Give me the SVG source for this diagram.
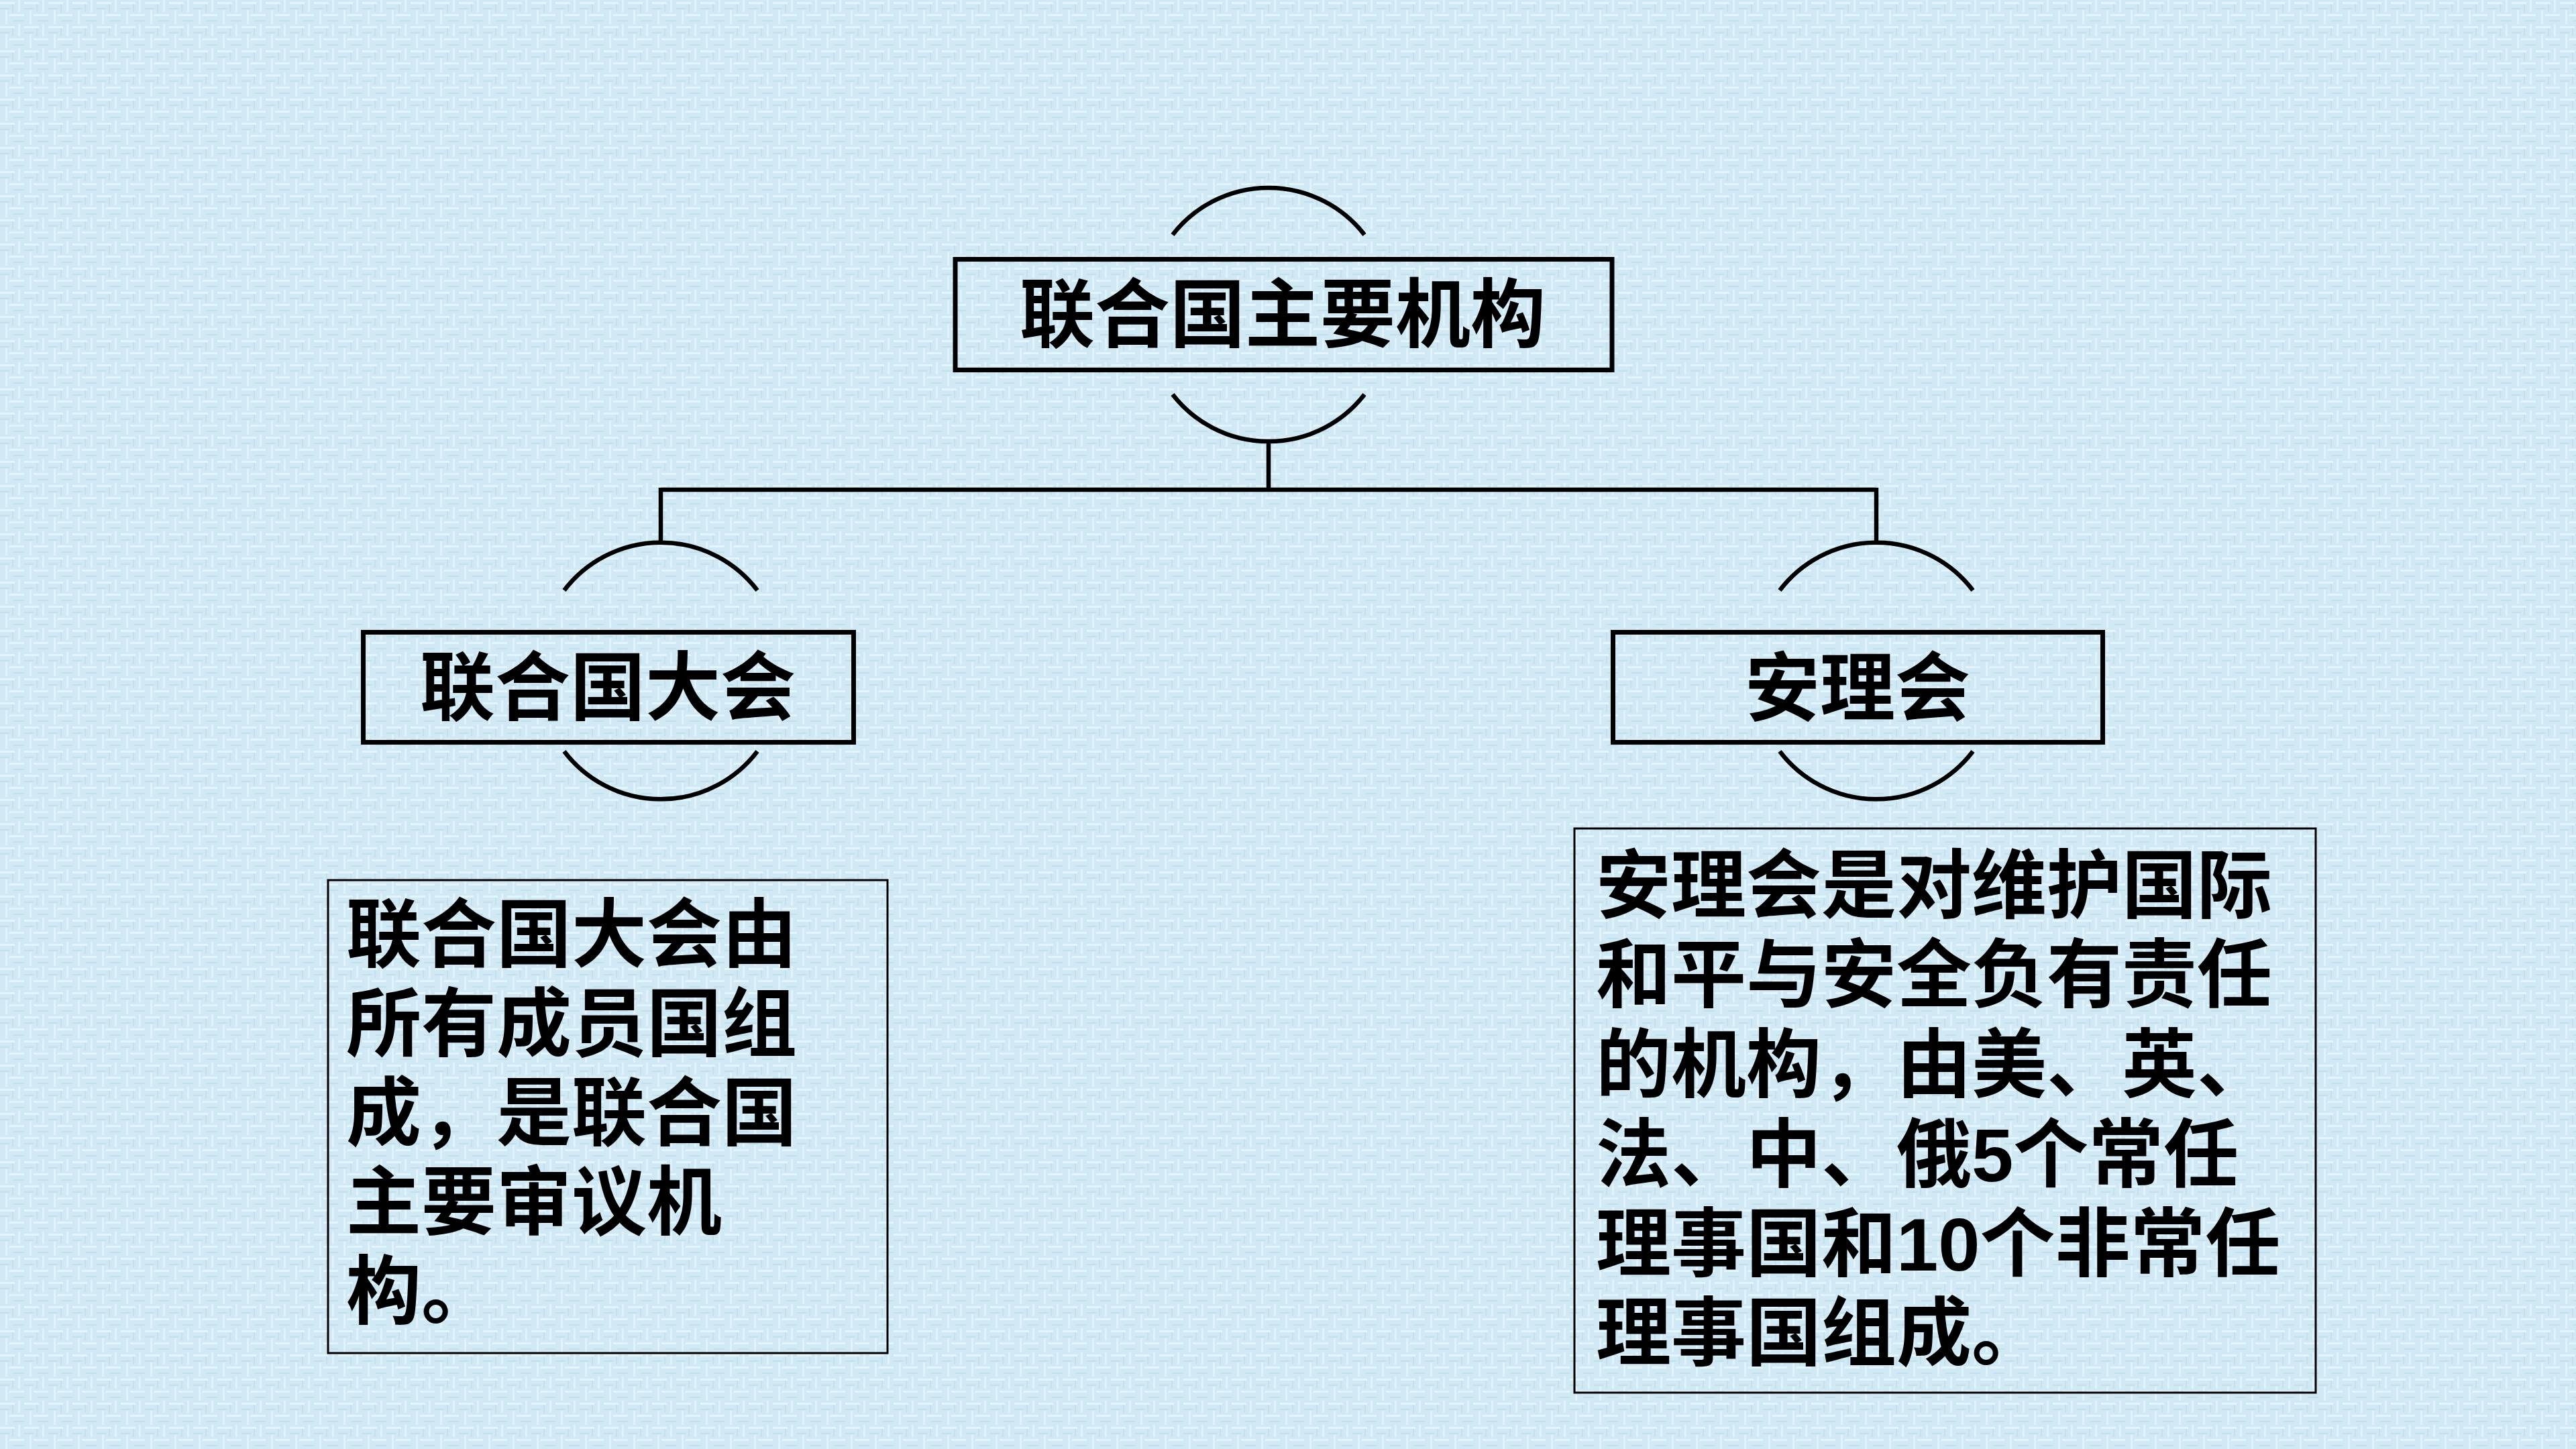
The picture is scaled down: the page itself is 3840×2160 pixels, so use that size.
<svg xmlns="http://www.w3.org/2000/svg" width="3840" height="2160" viewBox="0 0 3840 2160">
  <defs>
    <!-- woven paper texture -->
    <pattern id="weave" width="36" height="36" patternUnits="userSpaceOnUse">
      <rect width="36" height="36" fill="#d1e9f5"/>
      <rect x="0" y="3" width="22" height="3" fill="#e3f6fd"/>
      <rect x="14" y="21" width="22" height="3" fill="#e3f6fd"/>
      <rect x="27" y="0" width="3" height="18" fill="#e0f3fb"/>
      <rect x="8" y="15" width="3" height="21" fill="#e0f3fb"/>
      <rect x="0" y="12" width="14" height="2" fill="#c2dfec"/>
      <rect x="20" y="30" width="16" height="2" fill="#c2dfec"/>
      <rect x="18" y="6" width="2" height="12" fill="#c4e0ed"/>
    </pattern>
    <style>
      .hdr { fill: none; stroke: #000; stroke-width: 7; }
      .arc { fill: none; stroke: #000; stroke-width: 6.5; }
      .desc { fill: none; stroke: #000; stroke-width: 3; }
      .wire { fill: none; stroke: #000; stroke-width: 6.5; }
      text { font-family: "Noto Sans CJK SC", "Noto Sans", sans-serif; font-weight: 700; font-size: 112px; fill: #000; }
      .mid { text-anchor: middle; }
      .num { font-family: "Liberation Sans", Arial, sans-serif; }
    </style>
  </defs>

  <rect width="3840" height="2160" fill="url(#weave)"/>

  <!-- connectors -->
  <g id="connectors">
    <path class="wire" d="M1891,655 V730"/>
    <path class="wire" d="M985,730 H2797"/>
    <path class="wire" d="M985,727 V810"/>
    <path class="wire" d="M2797,727 V810"/>
  </g>

  <!-- root: main organs of the UN -->
  <g id="node-root">
    <path class="arc" d="M1748,350 A181,181 0 0 1 2034,350"/>
    <rect class="hdr" x="1424" y="386.5" width="979" height="165"/>
    <path class="arc" d="M1748,588 A181,181 0 0 0 2034,588"/>
    <text class="mid" x="1912" y="509">联合国主要机构</text>
  </g>

  <!-- General Assembly -->
  <g id="node-assembly">
    <path class="arc" d="M841,880 A181,181 0 0 1 1129,880"/>
    <rect class="hdr" x="541.5" y="942.5" width="731" height="164"/>
    <path class="arc" d="M841,1120 A181,181 0 0 0 1129,1120"/>
    <text class="mid" x="906" y="1065">联合国大会</text>
  </g>

  <!-- Security Council -->
  <g id="node-council">
    <path class="arc" d="M2653,880 A181,181 0 0 1 2941,880"/>
    <rect class="hdr" x="2404.5" y="942.5" width="730" height="164"/>
    <path class="arc" d="M2653,1120 A181,181 0 0 0 2941,1120"/>
    <text class="mid" x="2769" y="1066">安理会</text>
  </g>

  <!-- General Assembly description -->
  <g id="node-assembly-desc">
    <rect class="desc" x="489" y="1312" width="834" height="705"/>
    <text x="516" y="1433">联合国大会由</text>
    <text x="516" y="1566">所有成员国组</text>
    <text x="516" y="1699">成，是联合国</text>
    <text x="516" y="1832">主要审议机</text>
    <text x="516" y="1965">构。</text>
  </g>

  <!-- Security Council description -->
  <g id="node-council-desc">
    <rect class="desc" x="2347" y="1235" width="1105" height="841"/>
    <text x="2379" y="1360">安理会是对维护国际</text>
    <text x="2379" y="1493">和平与安全负有责任</text>
    <text x="2379" y="1627">的机构，由美、英、</text>
    <text x="2379" y="1761">法、中、俄<tspan class="num">5</tspan>个常任</text>
    <text x="2379" y="1894">理事国和<tspan class="num">10</tspan>个非常任</text>
    <text x="2379" y="2027">理事国组成。</text>
  </g>
</svg>
